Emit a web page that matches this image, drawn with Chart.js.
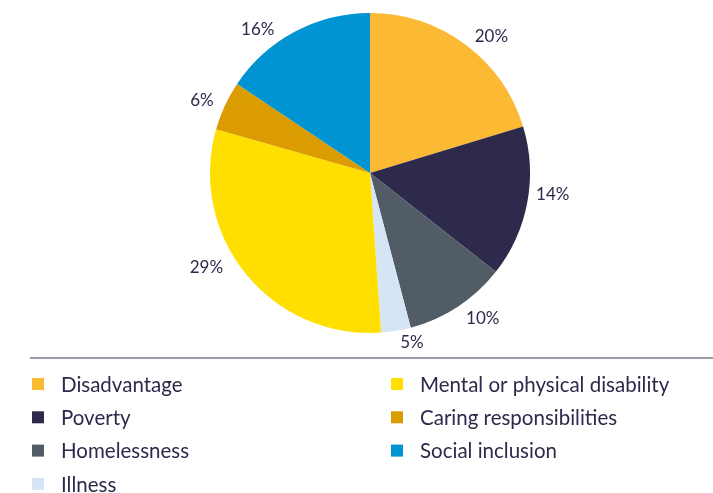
<!DOCTYPE html>
<html>
<head>
<meta charset="utf-8">
<script src="https://cdn.jsdelivr.net/npm/chart.js@4"></script>
<style>
  html, body { margin: 0; padding: 0; background: #ffffff; }
  #wrap { width: 713px; height: 493px; position: relative; }
</style>
</head>
<body>
<div id="wrap"><canvas id="pieChart"></canvas></div>
<script>
// data
const categories = ['Disadvantage', 'Poverty', 'Homelessness', 'Illness',
    'Mental or physical disability', 'Caring responsibilities', 'Social inclusion'];
const sliceValues = [20.3, 15.3, 10.3, 3.0, 30.5, 5.0, 15.6];
const pctLabels = ['20%', '14%', '10%', '5%', '29%', '6%', '16%'];
const colors = ['#fbb934', '#2d2a4b', '#525c66', '#d6e5f5', '#ffdf00', '#da9c00', '#0094d3'];
// legend is column-major, two columns
const legendColumns = [[0, 1, 2, 3], [4, 5, 6]];

const textColor = '#2c2a4a';

// label placement tweaks (degrees off the slice middle, px outside the rim)
const labelNudge = [5, -4, -4.5, -4.5, 9, -1.5, -10];
const labelGap = [23, 24, 24, 15, 29, 23, 22];

const outsideLabels = {
    id: 'outsideLabels',
    afterDatasetsDraw(chart) {
        const ctx = chart.ctx;
        const meta = chart.getDatasetMeta(0);
        ctx.save();
        ctx.font = '17px Lato, "Noto Sans", sans-serif';
        ctx.fillStyle = textColor;
        ctx.textAlign = 'center';
        ctx.textBaseline = 'middle';
        meta.data.forEach((arc, i) => {
            const mid = (arc.startAngle + arc.endAngle) / 2 + labelNudge[i] * Math.PI / 180;
            const r = arc.outerRadius + labelGap[i];
            ctx.fillText(pctLabels[i], arc.x + Math.cos(mid) * r, arc.y + Math.sin(mid) * r);
        });
        ctx.restore();
    }
};

const columnLegend = {
    id: 'columnLegend',
    afterDraw(chart) {
        const ctx = chart.ctx;
        ctx.save();
        // rule above the legend
        ctx.strokeStyle = '#9b9aa9';
        ctx.lineWidth = 2;
        ctx.beginPath();
        ctx.moveTo(30, 358);
        ctx.lineTo(713, 358);
        ctx.stroke();

        ctx.font = '20.5px Lato, "Noto Sans", sans-serif';
        ctx.textBaseline = 'middle';
        ctx.textAlign = 'left';
        const colX = [32, 391];
        legendColumns.forEach((col, c) => {
            col.forEach((idx, row) => {
                const y = 384 + row * 33.3;
                ctx.fillStyle = colors[idx];
                ctx.fillRect(colX[c], y - 6, 12, 12);
                ctx.fillStyle = textColor;
                ctx.fillText(categories[idx], colX[c] + 29, y + 1);
            });
        });
        ctx.restore();
    }
};

const chart = new Chart(document.getElementById('pieChart'), {
    type: 'pie',
    data: {
        labels: categories,
        datasets: [{
            data: sliceValues,
            backgroundColor: colors,
            borderWidth: 0,
            hoverOffset: 0
        }]
    },
    options: {
        responsive: true,
        maintainAspectRatio: false,
        animation: false,
        layout: {
            padding: { left: 210, right: 183, top: 13, bottom: 160 }
        },
        plugins: {
            legend: { display: false },
            tooltip: { enabled: false }
        }
    },
    plugins: [outsideLabels, columnLegend]
});
</script>
</body>
</html>
